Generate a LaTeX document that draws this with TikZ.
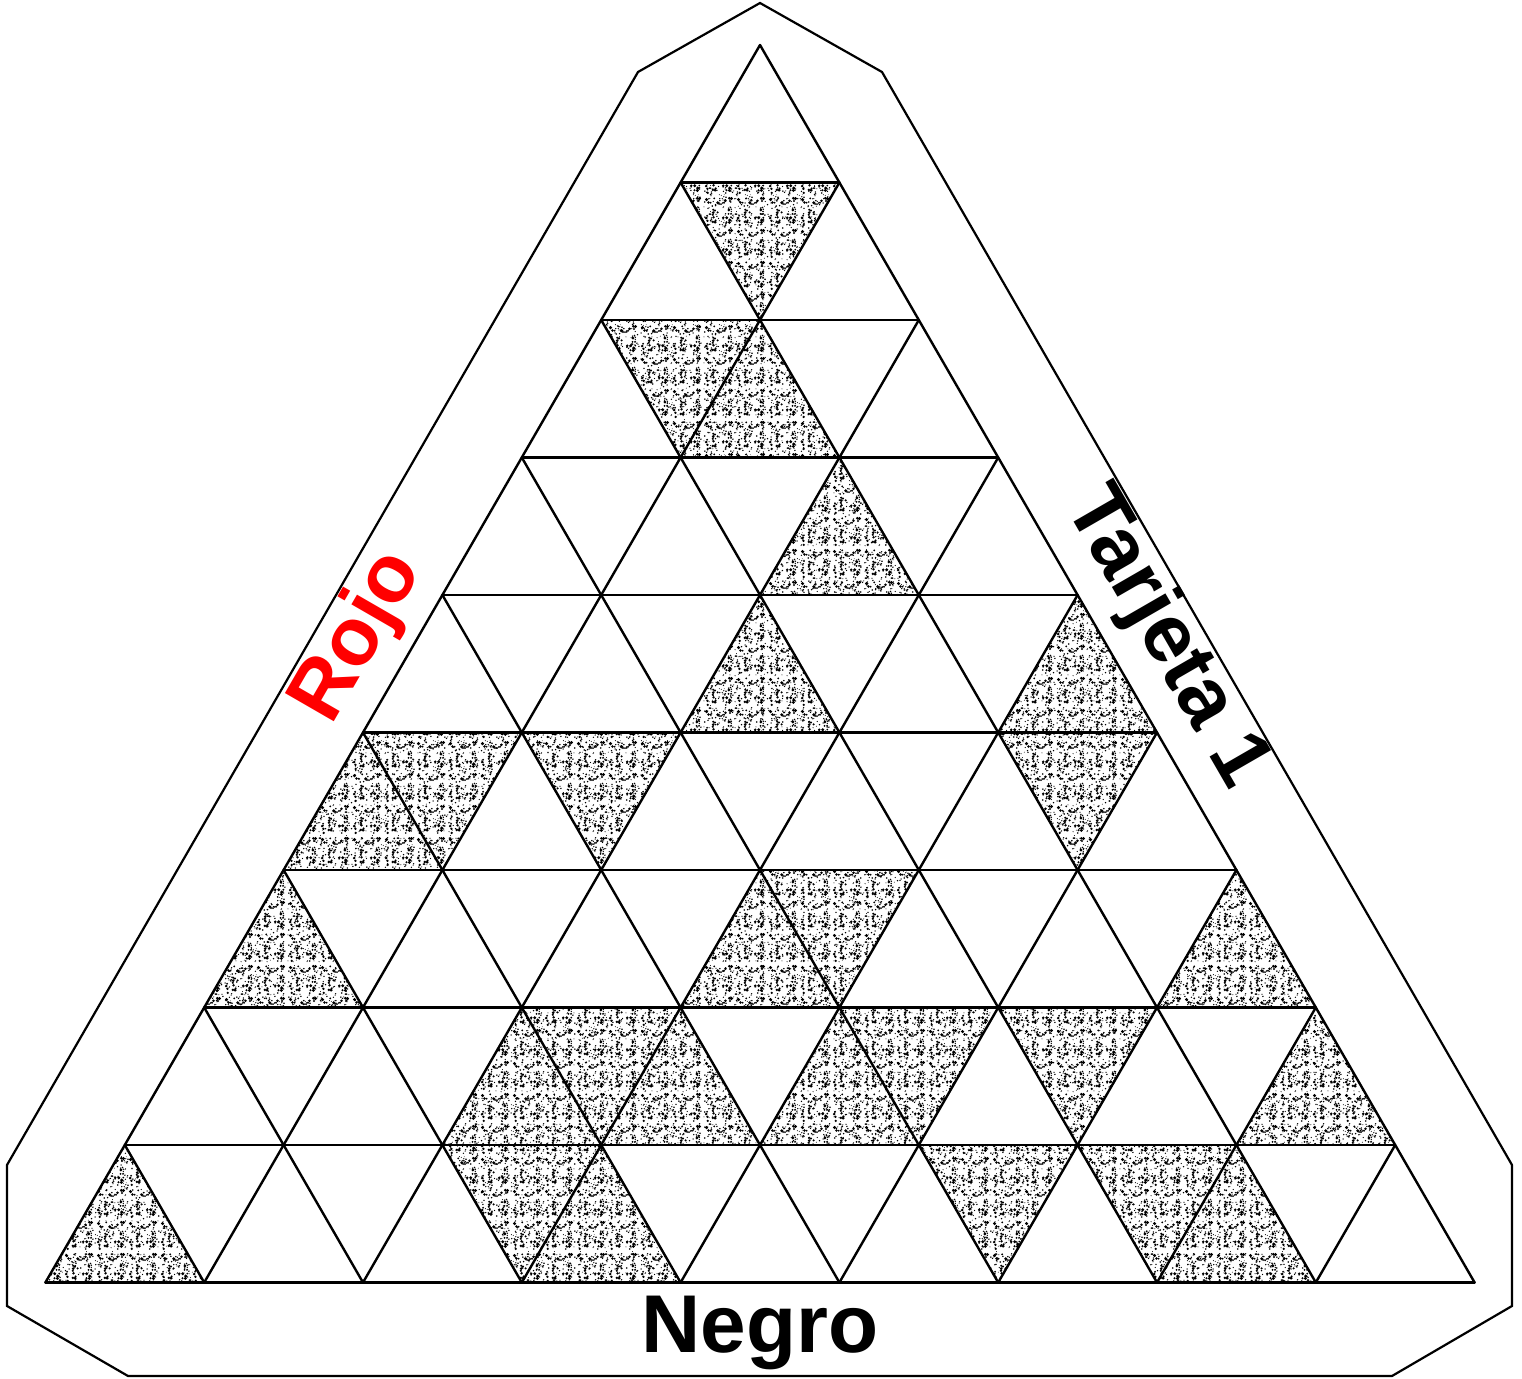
\documentclass[tikz,border=0pt]{standalone}
\usepackage{fontspec}
\setmainfont{Liberation Sans}
\usetikzlibrary{patterns}

% speckled fill for the marked cells (two tiles of different size)
\pgfmathsetseed{2718}
\pgfdeclarepatternformonly{speckle}{\pgfpointorigin}{\pgfpoint{16pt}{16pt}}{\pgfpoint{16pt}{16pt}}{%
  \foreach \n in {1,...,48}{%
    \pgfmathsetmacro{\px}{1+14*rnd}%
    \pgfmathsetmacro{\py}{1+14*rnd}%
    \pgfmathsetmacro{\pr}{0.35+0.55*rnd}%
    \pgfpathcircle{\pgfpoint{\px pt}{\py pt}}{\pr pt}%
    \pgfusepath{fill}%
  }%
}
\pgfdeclarepatternformonly{speckleb}{\pgfpointorigin}{\pgfpoint{13pt}{13pt}}{\pgfpoint{13pt}{13pt}}{%
  \foreach \n in {1,...,40}{%
    \pgfmathsetmacro{\px}{0.6+11.8*rnd}%
    \pgfmathsetmacro{\py}{0.6+11.8*rnd}%
    \pgfmathsetmacro{\pr}{0.25+0.22*rnd}%
    \pgfpathcircle{\pgfpoint{\px pt}{\py pt}}{\pr pt}%
    \pgfusepath{fill}%
  }%
}

\tikzset{
  cell/.style   = {pattern=speckle},
  cellb/.style  = {pattern=speckleb},
  gridln/.style = {line width=1.2pt, line cap=round},
  rim/.style    = {line width=1.1pt, line join=miter},
  lbl/.style    = {font=\fontsize{41}{48}\selectfont\bfseries, inner sep=0pt},
}

\begin{document}
\begin{tikzpicture}[x=0.5pt, y=-0.5pt]
\useasboundingbox (0,0) rectangle (1522,1379);

% outer board
\draw[rim] (760,3) -- (882,72) -- (1512,1165) -- (1512,1306) -- (1392,1376)
  -- (128,1376) -- (7,1306) -- (7,1165) -- (638,72) -- cycle;

% triangular grid: (k,r) = k-th vertex on row line r
\begin{scope}[shift={(760,45)}, x={(79.4pt,0pt)}, y={(-39.7pt,-68.75pt)}]
  \foreach \r/\k in {2/1, 3/2, 4/2, 4/4, 5/0, 6/0, 6/3, 6/6, 7/2, 7/3, 7/4, 7/7, 8/0, 8/3, 8/7}{
    \fill[cell] (\k,\r) -- (\k,\r+1) -- (\k+1,\r+1) -- cycle;
    \fill[cellb] (\k,\r) -- (\k,\r+1) -- (\k+1,\r+1) -- cycle;}
  \foreach \r/\k in {1/0, 2/0, 5/0, 5/1, 5/4, 6/3, 7/2, 7/4, 7/5, 8/2, 8/5, 8/6}{
    \fill[cell] (\k,\r) -- (\k+1,\r) -- (\k+1,\r+1) -- cycle;
    \fill[cellb] (\k,\r) -- (\k+1,\r) -- (\k+1,\r+1) -- cycle;}

  \foreach \j in {1,...,9}{\draw[gridln] (0,\j) -- (\j,\j);}
  \foreach \i in {0,...,8}{\draw[gridln] (\i,\i) -- (\i,9);}
  \foreach \c in {0,...,8}{\draw[gridln] (0,\c) -- (9-\c,9);}
\end{scope}

\node[lbl, text=red, rotate=60] (rojo) at (359,637) {Rojo};
\node[lbl, rotate=-60] (tarjeta) at (1166,638) {Tarjeta 1};
\node[lbl, anchor=base] (negro) at (760,1352) {Negro};
\end{tikzpicture}
\end{document}
